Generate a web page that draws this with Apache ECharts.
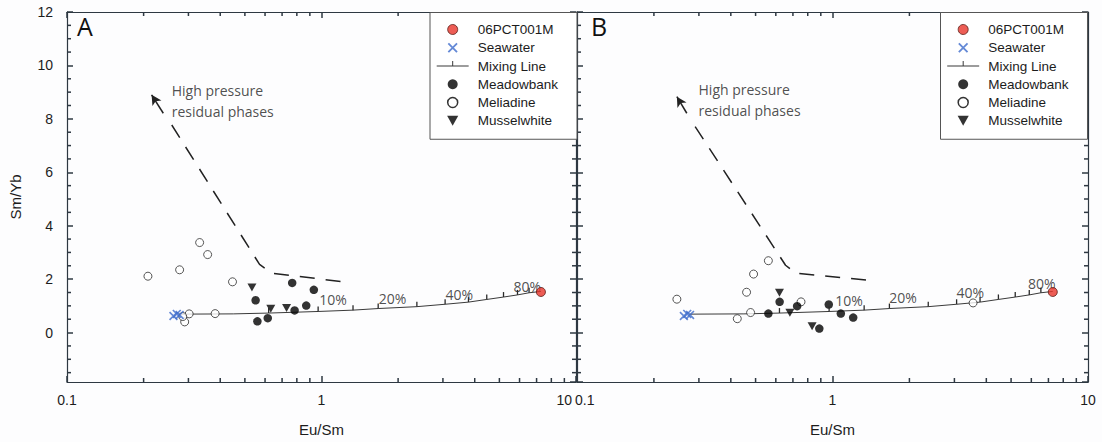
<!DOCTYPE html>
<html>
<head>
<meta charset="utf-8">
<script src="https://cdn.jsdelivr.net/npm/echarts@6/dist/echarts.min.js"></script>
<style>
  html, body { margin: 0; padding: 0; background: #ffffff; }
  #chart { width: 1102px; height: 442px; }
</style>
</head>
<body>
<div id="chart"></div>
<script>
  // mixing line between seawater and 06PCT001M (same in both panels)
  const mixX = [0.275, 0.45, 0.62, 0.97, 1.33, 1.67, 2.37, 3.06, 3.78, 4.46, 5.19, 5.89, 6.54, 7.28]
  const mixY = [0.69, 0.70, 0.73, 0.79, 0.84, 0.90, 0.97, 1.06, 1.14, 1.24, 1.33, 1.41, 1.49, 1.54]
  const xMinor = [0.2, 0.3, 0.4, 0.5, 0.6, 0.7, 0.8, 0.9, 2, 3, 4, 5, 6, 7, 8, 9]
  const yMinor = [-1.5, -1, -0.5, 0.5, 1, 1.5, 2.5, 3, 3.5, 4.5, 5, 5.5, 6.5, 7, 7.5, 8.5, 9, 9.5, 10.5, 11, 11.5]

  // panel A
  const pctA = [['10%', 1.11, 1.25], ['20%', 1.90, 1.27], ['40%', 3.48, 1.44], ['80%', 6.44, 1.74]]
  const seaA = [[0.262, 0.62], [0.27, 0.70], [0.277, 0.66]]
  const pctRedA = [[7.28, 1.52]]
  const meadowA = [[0.551, 1.21], [0.56, 0.42], [0.615, 0.54], [0.767, 1.86], [0.784, 0.83], [0.871, 1.01], [0.933, 1.60]]
  const meliaA = [[0.208, 2.11], [0.277, 2.35], [0.332, 3.37], [0.357, 2.92], [0.447, 1.90], [0.302, 0.70], [0.29, 0.40], [0.285, 0.60], [0.382, 0.71]]
  const musselA = [[0.533, 1.69], [0.632, 0.89], [0.729, 0.92]]
  const dashA = [[0.258, 7.77], [0.571, 2.55], [0.64, 2.22], [1.25, 1.89]]
  const arrowA = [[0.239, 8.21], [0.215, 8.9]]
  const noteA = [0.258, 8.67]

  // panel B
  const pctB = [['10%', 1.16, 1.21], ['20%', 1.89, 1.31], ['40%', 3.46, 1.49], ['80%', 6.6, 1.84]]
  const seaB = [[0.262, 0.62], [0.27, 0.70], [0.277, 0.66]]
  const pctRedB = [[7.28, 1.52]]
  const meadowB = [[0.561, 0.71], [0.621, 1.15], [0.727, 0.99], [0.888, 0.15], [0.967, 1.05], [1.078, 0.71], [1.205, 0.56]]
  const meliaB = [[0.246, 1.25], [0.424, 0.52], [0.478, 0.75], [0.461, 1.51], [0.491, 2.19], [0.561, 2.69], [0.753, 1.15], [3.55, 1.11]]
  const musselB = [[0.62, 1.49], [0.681, 0.74], [0.832, 0.24]]
  const dashB = [[0.29, 7.71], [0.655, 2.52], [0.72, 2.22], [1.41, 1.95]]
  const arrowB = [[0.269, 8.21], [0.246, 8.83]]
  const noteB = [0.299, 8.71]

  const yMin = -1.85
  const yMax = 12
  const xMin = 0.1
  const xMax = 10
  const axisColor = '#2e3842'
  const textColor = '#1c1c1c'
  const crossPath = 'path://M0,1.3L1.3,0L10,8.7L8.7,10z M8.7,0L10,1.3L1.3,10L0,8.7z'
  const mixIcon = 'path://M0,9.5h32v1H0z M15.5,5h1v5h-1z M0,15h0.01v0.01H0z'

  const chart = echarts.init(document.getElementById('chart'), null, { renderer: 'svg' })

  function xAxes(grid, leftPanel) {
    const base = {
      gridIndex: grid,
      type: 'log',
      logBase: 10,
      min: xMin,
      max: xMax,
      z: 6,
      axisLine: { show: true, onZero: false, lineStyle: { color: axisColor, width: 1.2 } },
      axisTick: { show: true, inside: true, length: 6, lineStyle: { color: axisColor, width: 1.5 } },
      splitLine: { show: false }
    }
    return [
      Object.assign({}, base, {
        position: 'bottom',
        name: 'Eu/Sm',
        nameLocation: 'middle',
        nameGap: 40,
        nameTextStyle: { fontSize: 15, color: textColor, fontFamily: 'Liberation Sans' },
        axisLabel: {
          fontSize: 14, color: textColor, fontFamily: 'Liberation Sans', margin: 11,
          alignMinLabel: leftPanel ? 'center' : 'left',
          alignMaxLabel: leftPanel ? 'right' : 'center',
          formatter: v => {
            const s = String(+v.toPrecision(2))
            if (leftPanel && v > 5) return '{r|' + s + '}'
            if (!leftPanel && v < 0.5) return '{l|' + s + '}'
            return s
          },
          rich: {
            r: { fontSize: 14, color: textColor, fontFamily: 'Liberation Sans', padding: [0, 4, 0, 0] },
            l: { fontSize: 14, color: textColor, fontFamily: 'Liberation Sans', padding: [0, 0, 0, -2] }
          }
        }
      }),
      Object.assign({}, base, { position: 'top', axisLabel: { show: false } })
    ]
  }

  function yAxes(grid, labels) {
    const base = {
      gridIndex: grid,
      type: 'value',
      min: yMin,
      max: yMax,
      splitNumber: 7,
      z: 6,
      axisLine: { show: true, onZero: false, lineStyle: { color: axisColor, width: 1.2 } },
      axisTick: { show: true, inside: true, length: 6, lineStyle: { color: axisColor, width: 1.5 } },
      splitLine: { show: false }
    }
    return [
      Object.assign({}, base, {
        position: 'left',
        name: labels ? 'Sm/Yb' : '',
        nameLocation: 'middle',
        nameGap: 44,
        nameTextStyle: { fontSize: 15, color: textColor, fontFamily: 'Liberation Sans' },
        axisLabel: {
          show: labels, fontSize: 14, color: textColor, fontFamily: 'Liberation Sans', margin: 14,
          showMinLabel: false,
          formatter: v => (Number.isInteger(v) ? String(v) : '')
        }
      }),
      Object.assign({}, base, { position: 'right', axisLabel: { show: false } })
    ]
  }

  // short strokes anchored at data points (minor ticks on the frame, ticks on the mixing line)
  function strokes(ax, data, dx, dy, color, width) {
    return Object.assign({
      type: 'custom', silent: true, z: 8, clip: false,
      renderItem: (params, api) => {
        const pt = api.coord([api.value(0), api.value(1)])
        return {
          type: 'line',
          shape: { x1: pt[0], y1: pt[1], x2: pt[0] + dx, y2: pt[1] + dy },
          style: { stroke: color, lineWidth: width }
        }
      },
      data: data
    }, ax)
  }

  function panelSeries(p, d) {
    const ax = { xAxisIndex: p * 2, yAxisIndex: p * 2 }
    const mixData = mixX.map((x, i) => [x, mixY[i]])
    const tickData = mixData.slice(2, mixData.length - 1)
    return [
      strokes(ax, xMinor.map(x => [x, yMax]), 0, 4, axisColor, 1.5),
      strokes(ax, xMinor.map(x => [x, yMin]), 0, -4, axisColor, 1.5),
      strokes(ax, yMinor.map(y => [xMin, y]), 4, 0, axisColor, 1.5),
      strokes(ax, yMinor.map(y => [xMax, y]), -4, 0, axisColor, 1.5),
      Object.assign({
        type: 'line', silent: true, showSymbol: false, z: 2,
        lineStyle: { color: '#222', width: 1.5, type: [15, 11] },
        data: d.dash,
        markLine: {
          silent: true, symbol: ['none', 'arrow'], symbolSize: [8, 10],
          lineStyle: { type: 'solid', color: '#222', width: 1.5 },
          label: { show: false },
          data: [[{ coord: d.arrow[0] }, { coord: d.arrow[1] }]]
        }
      }, ax),
      Object.assign({
        type: 'scatter', silent: true, symbolSize: 0, z: 3,
        label: {
          show: true, position: 'right', distance: 0, align: 'left',
          formatter: 'High pressure\nresidual phases',
          fontSize: 14, lineHeight: 21, color: '#222', fontFamily: 'Open Sans'
        },
        data: [d.note]
      }, ax),
      Object.assign({
        name: 'Mixing Line', type: 'line', showSymbol: false, z: 3,
        lineStyle: { color: '#3a3a3a', width: 1 }, itemStyle: { color: '#3a3a3a' },
        data: mixData
      }, ax),
      strokes(ax, tickData, 0, -5, '#2a2a2a', 1.3),
      Object.assign({
        type: 'scatter', silent: true, symbolSize: 0, z: 3,
        label: {
          show: true, position: 'inside', formatter: q => q.data[0],
          fontSize: 14, color: '#222', fontFamily: 'Open Sans'
        },
        encode: { x: 1, y: 2 },
        data: d.pct
      }, ax),
      Object.assign({
        name: 'Meliadine', type: 'scatter', symbol: 'circle', symbolSize: 8, z: 4,
        itemStyle: { color: '#ffffff', borderColor: '#2a2a2a', borderWidth: 1 },
        data: d.melia
      }, ax),
      Object.assign({
        name: 'Meadowbank', type: 'scatter', symbol: 'circle', symbolSize: 8.5, z: 5,
        itemStyle: { color: '#000000' }, data: d.meadow
      }, ax),
      Object.assign({
        name: 'Musselwhite', type: 'scatter', symbol: 'triangle', symbolRotate: 180, symbolSize: [9, 8], z: 5,
        itemStyle: { color: '#000000' }, data: d.mussel
      }, ax),
      Object.assign({
        name: 'Seawater', type: 'scatter', symbol: crossPath, symbolSize: 9, z: 6,
        itemStyle: { color: '#3d6ccc' }, data: d.sea
      }, ax),
      Object.assign({
        name: '06PCT001M', type: 'scatter', symbol: 'circle', symbolSize: 9, z: 6,
        itemStyle: { color: '#e8352b', borderColor: '#5a1a14', borderWidth: 1 }, data: d.red
      }, ax)
    ]
  }

  function legend(left) {
    return {
      orient: 'vertical',
      left: left,
      top: 12.5,
      z: 10,
      itemWidth: 40,
      itemHeight: 10,
      itemGap: 4.25,
      padding: [10, 19, 11.5, 6.7],
      backgroundColor: '#ffffff',
      borderColor: '#555',
      borderWidth: 1,
      borderRadius: 0,
      selectedMode: false,
      textStyle: { fontSize: 13.5, lineHeight: 14, color: textColor, fontFamily: 'Liberation Sans' },
      data: [
        { name: '06PCT001M', icon: 'circle', itemStyle: { color: '#e8352b', borderColor: '#5a1a14', borderWidth: 1 } },
        { name: 'Seawater', icon: crossPath, itemStyle: { color: '#3d6ccc', borderWidth: 0 } },
        { name: 'Mixing Line', icon: mixIcon, itemStyle: { color: '#3a3a3a', borderWidth: 0 } },
        { name: 'Meadowbank', icon: 'circle', itemStyle: { color: '#000', borderWidth: 0 } },
        { name: 'Meliadine', icon: 'circle', itemStyle: { color: '#fff', borderColor: '#000', borderWidth: 1.5 } },
        { name: 'Musselwhite', icon: 'path://M0,0H10L5,9z', itemStyle: { color: '#000', borderWidth: 0 } }
      ]
    }
  }

  chart.setOption({
    backgroundColor: '#fdfdfe',
    animation: false,
    title: [
      { text: 'A', left: 77, top: 13, padding: 0, textStyle: { fontSize: 25, fontWeight: 'normal', color: '#111', fontFamily: 'Open Sans' } },
      { text: 'B', left: 591, top: 13, padding: 0, textStyle: { fontSize: 25, fontWeight: 'normal', color: '#111', fontFamily: 'Open Sans' } }
    ],
    legend: [legend(430), legend(940.5)],
    grid: [
      { left: 67, top: 12, width: 509, height: 370, show: false },
      { left: 577, top: 12, width: 511, height: 370, show: false }
    ],
    xAxis: xAxes(0, true).concat(xAxes(1, false)),
    yAxis: yAxes(0, true).concat(yAxes(1, false)),
    series: panelSeries(0, {
      pct: pctA, sea: seaA, red: pctRedA, meadow: meadowA, melia: meliaA, mussel: musselA,
      dash: dashA, arrow: arrowA, note: noteA
    }).concat(panelSeries(1, {
      pct: pctB, sea: seaB, red: pctRedB, meadow: meadowB, melia: meliaB, mussel: musselB,
      dash: dashB, arrow: arrowB, note: noteB
    }))
  })
</script>
</body>
</html>
